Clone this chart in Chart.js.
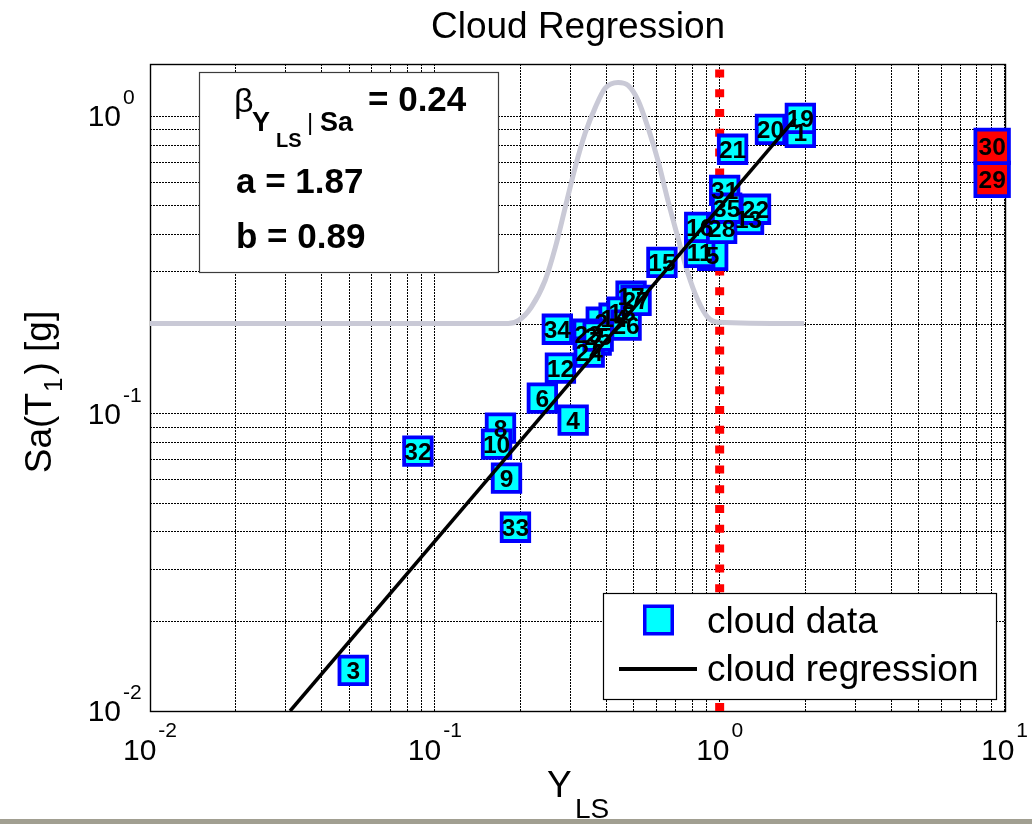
<!DOCTYPE html>
<html>
<head>
<meta charset="utf-8">
<title>Cloud Regression</title>
<script src="https://cdn.jsdelivr.net/npm/chart.js@4.4.0/dist/chart.umd.min.js"></script>
<style>
  html, body { margin: 0; padding: 0; background: #ffffff; }
  #wrap { position: relative; width: 1032px; height: 824px; overflow: hidden; }
  #c { display: block; }
  #band { position: absolute; left: 0; top: 819px; width: 1032px; height: 5px; background: #a19f91; }
</style>
</head>
<body>
<div id="wrap">
  <canvas id="c" width="1032" height="824"></canvas>
  <div id="band"></div>
</div>
<script>
// ---- cloud data: record number, demand/capacity ratio Y_LS, spectral acceleration Sa(T1) [g]
const recordIds = [1, 2, 3, 4, 5, 6, 7, 8, 9, 10, 11, 12, 13, 14, 15, 16, 17, 18,
                   19, 20, 21, 22, 23, 24, 25, 26, 27, 28, 29, 30, 31, 32, 33, 34, 35];
const yLS = [1.92, 0.384, 0.0517, 0.306, 0.945, 0.2385, 0.3685, 0.170, 0.1785, 0.1647,
             0.851, 0.276, 1.263, 0.426, 0.627, 0.851, 0.4886, 0.4544, 1.92, 1.508,
             1.110, 1.336, 0.3455, 0.3483, 0.3745, 0.4693, 0.5086, 1.016, 9.05, 9.05,
             1.041, 0.0872, 0.1919, 0.2692, 1.058];
const saT1 = [0.884, 0.203, 0.0137, 0.0951, 0.341, 0.1128, 0.1767, 0.0894, 0.0607, 0.0790,
              0.349, 0.1422, 0.4506, 0.2094, 0.323, 0.4235, 0.2483, 0.2194, 0.985, 0.904,
              0.775, 0.487, 0.185, 0.161, 0.1822, 0.1984, 0.2406, 0.4202, 0.614, 0.793,
              0.564, 0.0748, 0.0415, 0.1923, 0.4908];
// records flagged as collapse cases
const collapseIds = [29, 30];

// ---- cloud regression  Y_LS = a * Sa^b, with dispersion beta
const regA = 1.87;
const regB = 0.89;
const regBeta = 0.24;
const regSaRange = [0.01, 0.985];

// ---- limit state threshold Y_LS = 1
const limitState = 1.0;

// ---- lognormal shape of Y_LS given Sa, drawn over the Y_LS axis
const pdfX = [0.01, 0.181, 0.197, 0.218, 0.244, 0.265, 0.287, 0.311, 0.337, 0.366, 0.396, 0.440,
              0.477, 0.517, 0.560, 0.607, 0.658, 0.713, 0.773, 0.838, 0.908, 0.984, 1.98];
const pdfY = [0.201, 0.201, 0.206, 0.228, 0.281, 0.363, 0.494, 0.674, 0.877, 1.072, 1.242, 1.301,
              1.271, 1.132, 0.918, 0.711, 0.522, 0.392, 0.297, 0.241, 0.211, 0.203, 0.201];

// ---- axes
const xRange = [0.01, 10];
const yRange = [0.01, 1.5];
const xDecades = [-2, -1, 0, 1];
const yDecades = [-2, -1, 0];
const gridMantissas = [1, 2, 3, 4, 5, 6, 7, 8, 9];

const FONT = '"Liberation Sans", Arial, Helvetica, sans-serif';
const CYAN = '#00ffff';
const BLUE = '#0000ff';
const RED = '#ff0000';

function gridValues(decades, lo, hi) {
  const vals = [];
  decades.forEach(e => gridMantissas.forEach(m => {
    const v = +(m * Math.pow(10, e)).toPrecision(6);
    if (v >= lo && v <= hi) vals.push(v);
  }));
  return vals;
}
const xGrid = gridValues(xDecades, xRange[0], xRange[1]);
const yGrid = gridValues(yDecades, yRange[0], yRange[1]);

const cloudPoints = recordIds.map((id, i) => ({ x: yLS[i], y: saT1[i] }));
const regPoints = regSaRange.map(sa => ({ x: regA * Math.pow(sa, regB), y: sa }));
const pdfPoints = pdfX.map((x, i) => ({ x: x, y: pdfY[i] }));
const limitPoints = [{ x: limitState, y: yRange[0] }, { x: limitState, y: yRange[1] }];

const isCollapse = i => collapseIds.indexOf(recordIds[i]) >= 0;

// plot frame, drawn under the marks
const framePlugin = {
  id: 'frame',
  beforeDatasetsDraw(chart) {
    const { ctx, chartArea: a } = chart;
    ctx.save();
    ctx.strokeStyle = '#000';
    ctx.lineWidth = 1.4;
    ctx.strokeRect(Math.round(a.left) + 0.5, Math.round(a.top) + 0.5,
                   Math.round(a.right - a.left), Math.round(a.bottom - a.top));
    ctx.restore();
  }
};

// record numbers printed on the markers
const labelPlugin = {
  id: 'pointLabels',
  afterDatasetsDraw(chart) {
    const ctx = chart.ctx;
    const meta = chart.getDatasetMeta(2);
    ctx.save();
    ctx.font = 'bold 24.5px ' + FONT;
    ctx.fillStyle = '#000';
    ctx.textAlign = 'center';
    ctx.textBaseline = 'alphabetic';
    meta.data.forEach((el, i) => {
      ctx.fillText(String(recordIds[i]), el.x, el.y + 9);
    });
    ctx.restore();
  }
};

function drawSquare(ctx, cx, cy, side) {
  ctx.fillStyle = CYAN;
  ctx.strokeStyle = BLUE;
  ctx.lineWidth = 3.5;
  ctx.fillRect(cx - side / 2, cy - side / 2, side, side);
  ctx.strokeRect(cx - side / 2, cy - side / 2, side, side);
}

// tick labels, titles, parameter box and legend
const textPlugin = {
  id: 'texts',
  afterDraw(chart) {
    const ctx = chart.ctx;
    const xs = chart.scales.x, ys = chart.scales.y;
    ctx.save();
    ctx.fillStyle = '#000';
    ctx.textBaseline = 'alphabetic';

    // x tick labels 10^e
    xDecades.forEach(e => {
      const px = xs.getPixelForValue(Math.pow(10, e));
      ctx.font = '30px ' + FONT;
      const w1 = ctx.measureText('10').width;
      ctx.font = '21px ' + FONT;
      const w2 = ctx.measureText(String(e)).width;
      const x0 = px - (w1 + 2 + w2) / 2;
      ctx.textAlign = 'left';
      ctx.font = '30px ' + FONT;
      ctx.fillText('10', x0, 760);
      ctx.font = '21px ' + FONT;
      ctx.fillText(String(e), x0 + w1 + 2, 737);
    });

    // y tick labels 10^e
    yDecades.forEach(e => {
      const py = ys.getPixelForValue(Math.pow(10, e));
      ctx.font = '30px ' + FONT;
      ctx.textAlign = 'right';
      ctx.fillText('10', 121, py + 10);
      ctx.font = '21px ' + FONT;
      ctx.textAlign = 'left';
      ctx.fillText(String(e), 123, py - 12);
    });

    // title
    ctx.font = '37px ' + FONT;
    ctx.textAlign = 'center';
    ctx.fillText('Cloud Regression', 578, 38);

    // x axis title  Y_LS
    ctx.textAlign = 'left';
    ctx.font = '37px ' + FONT;
    ctx.fillText('Y', 547, 797);
    ctx.font = '28px ' + FONT;
    ctx.fillText('LS', 575, 818);

    // y axis title  Sa(T_1) [g]
    ctx.save();
    ctx.translate(51, 392);
    ctx.rotate(-Math.PI / 2);
    ctx.font = '37px ' + FONT;
    const p1 = 'Sa(T', p2 = ') [g]';
    const wp1 = ctx.measureText(p1).width;
    const wp2 = ctx.measureText(p2).width;
    ctx.font = '26px ' + FONT;
    const ws = ctx.measureText('1').width;
    let x0 = -(wp1 + ws + 4 + wp2) / 2;
    ctx.font = '37px ' + FONT;
    ctx.fillText(p1, x0, 0);
    ctx.font = '26px ' + FONT;
    ctx.fillText('1', x0 + wp1 + 1, 11);
    ctx.font = '37px ' + FONT;
    ctx.fillText(p2, x0 + wp1 + ws + 4, 0);
    ctx.restore();

    // regression parameter box
    ctx.fillStyle = '#fff';
    ctx.fillRect(199, 72, 299, 200);
    ctx.strokeStyle = '#3c3c3c';
    ctx.lineWidth = 1.2;
    ctx.strokeRect(199.5, 72.5, 299, 200);
    ctx.fillStyle = '#000';
    ctx.textAlign = 'left';
    ctx.font = '34px ' + FONT;
    ctx.fillText('\u03B2', 234, 112);
    ctx.font = 'bold 27px ' + FONT;
    ctx.fillText('Y', 252, 131);
    ctx.font = 'bold 20px ' + FONT;
    ctx.fillText('LS', 276, 147);
    ctx.font = '24px ' + FONT;
    ctx.fillText('|', 307, 130);
    ctx.font = 'bold 27px ' + FONT;
    ctx.fillText('Sa', 320, 131);
    ctx.font = 'bold 35px ' + FONT;
    ctx.fillText('= ' + regBeta.toFixed(2), 368, 111);
    ctx.fillText('a = ' + regA.toFixed(2), 236, 193);
    ctx.fillText('b = ' + regB.toFixed(2), 236, 248);

    // legend
    ctx.fillStyle = '#fff';
    ctx.fillRect(603, 593, 393, 106);
    ctx.strokeStyle = '#000';
    ctx.lineWidth = 1.2;
    ctx.strokeRect(603.5, 593.5, 393, 106);
    drawSquare(ctx, 658.5, 620, 27.5);
    ctx.strokeStyle = '#000';
    ctx.lineWidth = 4;
    ctx.beginPath();
    ctx.moveTo(619, 669);
    ctx.lineTo(697, 669);
    ctx.stroke();
    ctx.fillStyle = '#000';
    ctx.font = '37px ' + FONT;
    ctx.fillText('cloud data', 707, 633);
    ctx.fillText('cloud regression', 707, 681);

    ctx.restore();
  }
};

const gridOpts = { color: '#000', lineWidth: 1, drawTicks: false };

new Chart(document.getElementById('c'), {
  type: 'scatter',
  data: {
    datasets: [
      {
        label: 'cloud regression',
        data: regPoints,
        showLine: true,
        borderColor: '#000',
        borderWidth: 3.5,
        pointRadius: 0,
        order: 1
      },
      {
        label: 'limit state',
        data: limitPoints,
        showLine: true,
        borderColor: RED,
        borderWidth: 9,
        borderDash: [8, 11.8],
        pointRadius: 0,
        order: 3
      },
      {
        label: 'cloud data',
        data: cloudPoints,
        pointStyle: 'rect',
        pointRadius: ctx => isCollapse(ctx.dataIndex) ? 23.7 : 19.45,
        backgroundColor: ctx => isCollapse(ctx.dataIndex) ? RED : CYAN,
        borderColor: BLUE,
        borderWidth: 3.8,
        clip: false,
        order: 2
      },
      {
        label: 'lognormal',
        data: pdfPoints,
        showLine: true,
        borderColor: '#c9c9d6',
        borderWidth: 5,
        pointRadius: 0,
        cubicInterpolationMode: 'monotone',
        order: 4
      }
    ]
  },
  options: {
    responsive: false,
    animation: false,
    events: [],
    layout: { padding: { left: 150, top: 64, right: 24, bottom: 113 } },
    plugins: {
      legend: { display: false },
      tooltip: { enabled: false },
      title: { display: false }
    },
    scales: {
      x: {
        type: 'logarithmic',
        min: xRange[0],
        max: xRange[1],
        ticks: { display: false },
        grid: gridOpts,
        border: { display: false, dash: [2, 1] },
        afterBuildTicks: s => { s.ticks = xGrid.map(v => ({ value: v })); }
      },
      y: {
        type: 'logarithmic',
        min: yRange[0],
        max: yRange[1],
        ticks: { display: false },
        grid: gridOpts,
        border: { display: false, dash: [2, 1] },
        afterBuildTicks: s => { s.ticks = yGrid.map(v => ({ value: v })); }
      }
    }
  },
  plugins: [framePlugin, labelPlugin, textPlugin]
});
</script>
</body>
</html>
